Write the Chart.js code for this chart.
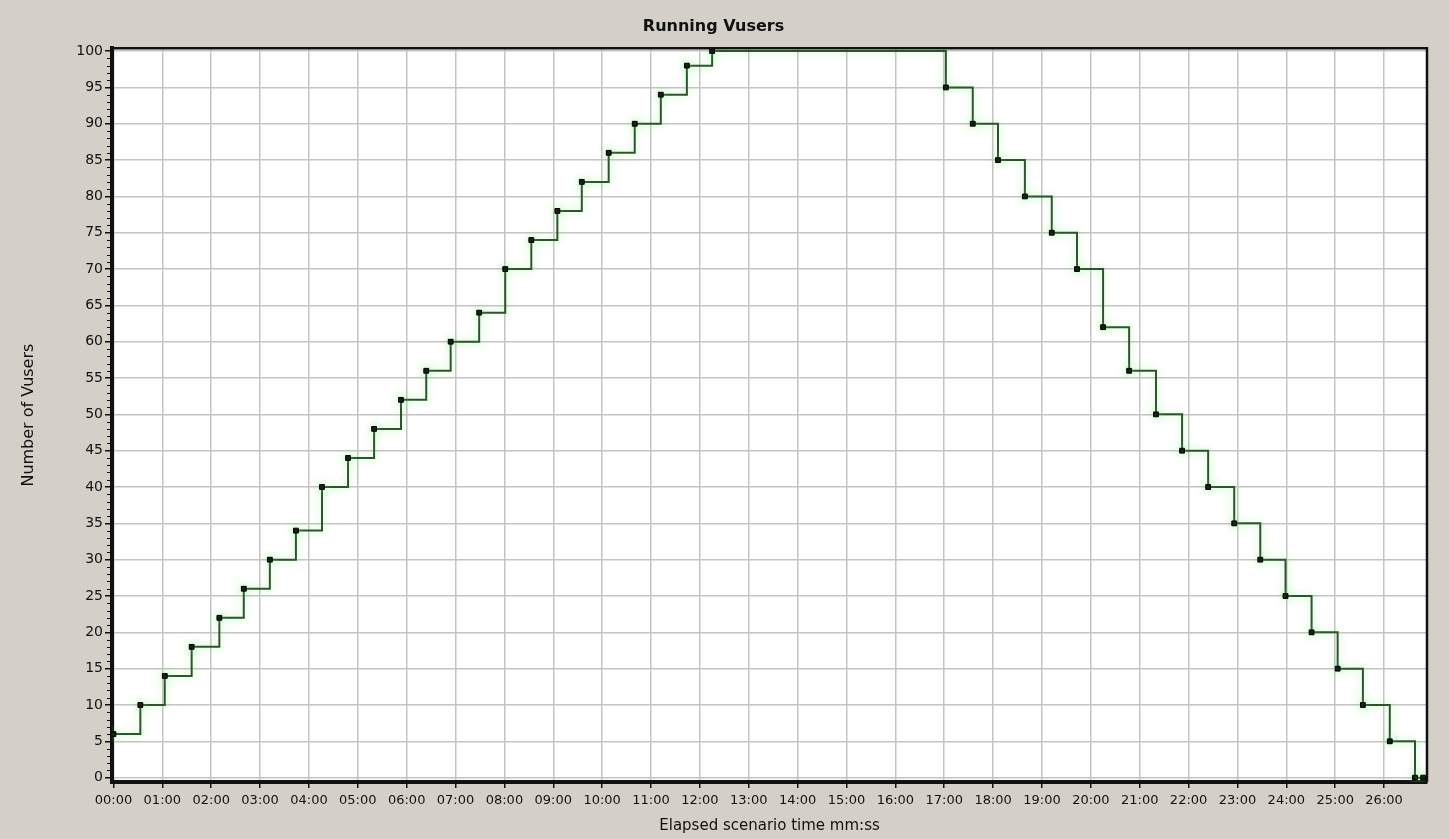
<!DOCTYPE html>
<html>
<head>
<meta charset="utf-8">
<title>Running Vusers</title>
<script src="https://cdn.jsdelivr.net/npm/chart.js@4.4.1/dist/chart.umd.min.js"></script>
<style>
  html, body { margin: 0; padding: 0; background: #d4d0c8; }
  #wrap { width: 1449px; height: 839px; position: relative; }
</style>
</head>
<body>
<div id="wrap"><canvas id="vusersChart"></canvas></div>
<script>
// elapsed time of each step (seconds) and running vusers at that step
const elapsedSec = [0, 33, 63, 96, 130, 160, 192, 224, 256, 288, 320, 353, 384, 414, 449, 481,
  513, 545, 575, 608, 640, 672, 704, 735,
  1022, 1055, 1086, 1119, 1152, 1183, 1215, 1247, 1280, 1312, 1344, 1376, 1408, 1439, 1471,
  1503, 1534, 1567, 1598, 1608];
const vusers = [6, 10, 14, 18, 22, 26, 30, 34, 40, 44, 48, 52, 56, 60, 64, 70,
  74, 78, 82, 86, 90, 94, 98, 100,
  95, 90, 85, 80, 75, 70, 62, 56, 50, 45, 40, 35, 30, 25, 20,
  15, 10, 5, 0, 0];
const xTickLabels = ["00:00", "01:00", "02:00", "03:00", "04:00", "05:00", "06:00", "07:00",
  "08:00", "09:00", "10:00", "11:00", "12:00", "13:00", "14:00", "15:00", "16:00", "17:00",
  "18:00", "19:00", "20:00", "21:00", "22:00", "23:00", "24:00", "25:00", "26:00"];
const yTickStep = 5;

const points = elapsedSec.map((t, i) => ({ x: t, y: vusers[i] }));
const FONT = "DejaVu Sans";

// grey panel, white plot area, top/right frame and minor y ticks
const frame = {
  id: "frame",
  beforeDraw(chart) {
    const { ctx, chartArea: a } = chart;
    ctx.save();
    ctx.fillStyle = "#d4d0c8";
    ctx.fillRect(0, 0, chart.width, chart.height);
    ctx.fillStyle = "#ffffff";
    ctx.fillRect(a.left, a.top, a.right - a.left, a.bottom - a.top);
    ctx.restore();
  },
  beforeDatasetDraw(chart) {
    chart.ctx.save();
    chart.ctx.shadowColor = "rgba(120, 235, 120, 0.55)";
    chart.ctx.shadowBlur = 8;
  },
  afterDatasetDraw(chart) {
    chart.ctx.restore();
  },
  afterDraw(chart) {
    const { ctx, chartArea: a, scales } = chart;
    ctx.save();
    ctx.strokeStyle = "#111";
    ctx.lineWidth = 2.5;
    ctx.beginPath();
    ctx.moveTo(a.left, a.top);
    ctx.lineTo(a.right, a.top);
    ctx.lineTo(a.right, a.bottom);
    ctx.stroke();
    ctx.lineWidth = 1;
    ctx.beginPath();
    for (let v = 0; v <= 100; v++) {
      if (v % yTickStep === 0) continue;
      const py = Math.round(scales.y.getPixelForValue(v)) + 0.5;
      ctx.moveTo(a.left - 5, py);
      ctx.lineTo(a.left - 1, py);
    }
    ctx.stroke();
    ctx.restore();
  }
};

new Chart(document.getElementById("vusersChart"), {
  type: "line",
  data: {
    datasets: [{
      label: "Running Vusers",
      data: points,
      stepped: "before",
      borderColor: "#2b562b",
      borderWidth: 2,
      pointStyle: "rect",
      pointRadius: 3.4,
      pointHoverRadius: 3.4,
      pointBackgroundColor: "#111",
      pointBorderColor: "#000",
      pointBorderWidth: 1,
      fill: false
    }]
  },
  options: {
    responsive: true,
    maintainAspectRatio: false,
    animation: false,
    layout: { padding: { left: 0, right: 22, top: 0, bottom: 0 } },
    plugins: {
      legend: { display: false },
      tooltip: { enabled: false },
      title: {
        display: true,
        text: "Running Vusers",
        color: "#111",
        font: { family: FONT, size: 16, weight: "bold" },
        padding: { top: 17, bottom: 12 }
      }
    },
    scales: {
      x: {
        type: "linear",
        min: -1.8,
        max: 1612.7,
        afterBuildTicks: s => { s.ticks = s.ticks.filter(t => t.value >= 0 && t.value % 60 === 0); },
        afterFit: s => { s.height = 57; },
        ticks: {
          stepSize: 60,
          includeBounds: false,
          autoSkip: false,
          maxRotation: 0,
          padding: 5,
          color: "#111",
          font: { family: FONT, size: 13 },
          callback: v => xTickLabels[Math.round(v / 60)]
        },
        grid: { color: "#c4c4c4", lineWidth: 1.5, tickColor: "#111", tickLength: 6, tickWidth: 1.5 },
        border: { color: "#111", width: 4 },
        title: {
          display: true,
          text: "Elapsed scenario time mm:ss",
          color: "#111",
          font: { family: FONT, size: 15 },
          padding: { top: 0, bottom: 4 }
        }
      },
      y: {
        min: -0.6,
        max: 100.4,
        afterBuildTicks: s => { s.ticks = s.ticks.filter(t => t.value >= 0 && t.value % yTickStep === 0); },
        afterFit: s => { s.width = 112; },
        ticks: {
          stepSize: yTickStep,
          includeBounds: false,
          autoSkip: false,
          padding: 2,
          color: "#111",
          font: { family: FONT, size: 14 }
        },
        grid: { color: "#c4c4c4", lineWidth: 1.5, tickColor: "#111", tickLength: 7, tickWidth: 1.5 },
        border: { color: "#111", width: 4 },
        title: {
          display: true,
          text: "Number of Vusers",
          color: "#111",
          font: { family: FONT, size: 16 },
          padding: { top: 19, bottom: 0 }
        }
      }
    }
  },
  plugins: [frame]
});
</script>
</body>
</html>
